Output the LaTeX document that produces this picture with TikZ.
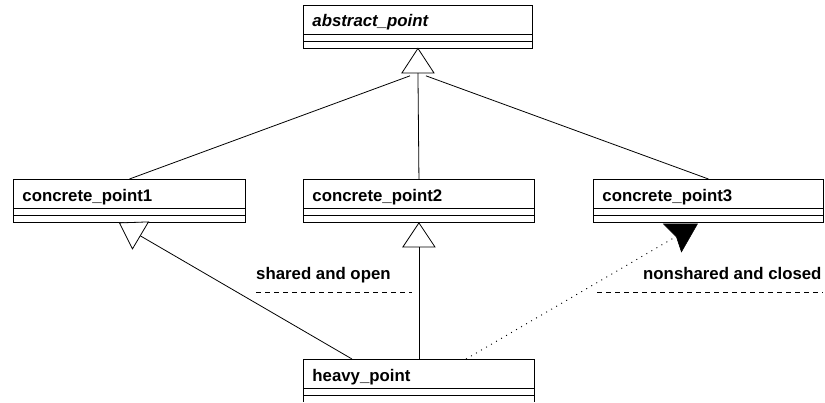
\documentclass[tikz,border=0pt]{standalone}
\usepackage{fontspec}
\setmainfont{Liberation Sans}
\usetikzlibrary{calc}
\newcommand\umlclass[6]{% name, x, y, width, textwidth, label
  \node[classname, text width=#5bp] (#1) at (#2,#3) {#6};
  \draw[classline] (#1.south west) rectangle ++(#4,7) ++(-#4,0) rectangle ++(#4,7);
  \coordinate (#1-b) at ([yshift=-14bp]#1.south);
}
\begin{document}
\begin{tikzpicture}[x=1bp,y=-1bp,
  every node/.style={font=\fontsize{16.8bp}{20bp}\selectfont\bfseries},
  classname/.style={draw, fill=white, line width=0.9bp, anchor=north west,
    inner xsep=9bp, inner ysep=0pt, text height=22bp, text depth=7bp, align=left},
  classline/.style={draw, line width=0.9bp},
  conn/.style={draw, line width=0.8bp},
  opentri/.style={draw, line width=0.8bp, fill=white},
  filltri/.style={draw, line width=0.5bp, fill=black},
  dotline/.style={draw, line width=0.9bp, dash pattern=on 1bp off 4.8bp},
  divider/.style={draw, line width=0.8bp, dash pattern=on 5bp off 4bp},
  lbl/.style={anchor=base west, inner sep=0pt}]
\useasboundingbox (0,0) rectangle (825,402);
\clip (0,0) rectangle (825,401.4);
\fill[white] (0,0) rectangle (825,402);

\umlclass{ab}{303}{4.5}{229}{211}{\itshape abstract\_point}
\umlclass{c1}{13}{179}{232}{214}{concrete\_point1}
\umlclass{c2}{303}{179}{231}{213}{concrete\_point2}
\umlclass{c3}{593}{179}{230}{212}{concrete\_point3}
\umlclass{hv}{303}{359}{231}{213}{heavy\_point}

% generalization to abstract_point
\coordinate (ab-base) at ([yshift=-24.5bp]ab-b);
\draw[conn, shorten >=8.5bp] (c1.north) -- (ab-base);
\draw[conn] (c2.north) -- (ab-base);
\draw[conn, shorten >=8.5bp] (c3.north) -- (ab-base);
\draw[opentri] (ab-b) -- ++(-16,24.5) -- ++(32,0) -- cycle;

% heavy_point -> concrete_point2
\coordinate (c2-base) at ([yshift=-24bp]c2-b);
\draw[conn] (hv.north) -- (c2-base);
\draw[opentri] (c2-b) -- ++(-16,24) -- ++(32,0) -- cycle;

% heavy_point -> concrete_point1
\coordinate (c1-end) at ($(c1-b)+(11,13)$);
\coordinate (hv-l) at ($(hv.north west)+(49,0)$);
\draw[conn] (hv-l) -- (c1-end);
\draw[opentri] ($(c1-b)+(-10,0)$) -- ($(c1-b)+(19,-1)$) -- ($(c1-b)+(3,26)$) -- cycle;

% heavy_point -> concrete_point3 (dotted, filled head)
\coordinate (c3-end) at ($(c3-b)+(-33,14)$);
\coordinate (hv-r) at ($(hv.north west)+(163,0)$);
\draw[dotline] (hv-r) -- (c3-end);
\filldraw[filltri] ($(c3-b)+(-45,1)$) -- ($(c3-b)+(-11,1)$) -- ($(c3-b)+(-27,29)$) -- ($(c3-b)+(-32,14)$) -- cycle;

% dividers and labels
\draw[divider] (256,292) -- (412,292);
\draw[divider] (597,292) -- (823,292);
\node[lbl] (l1) at (256,279) {shared and open};
\node[lbl] (l2) at (643,279) {nonshared and closed};
\end{tikzpicture}
\end{document}
